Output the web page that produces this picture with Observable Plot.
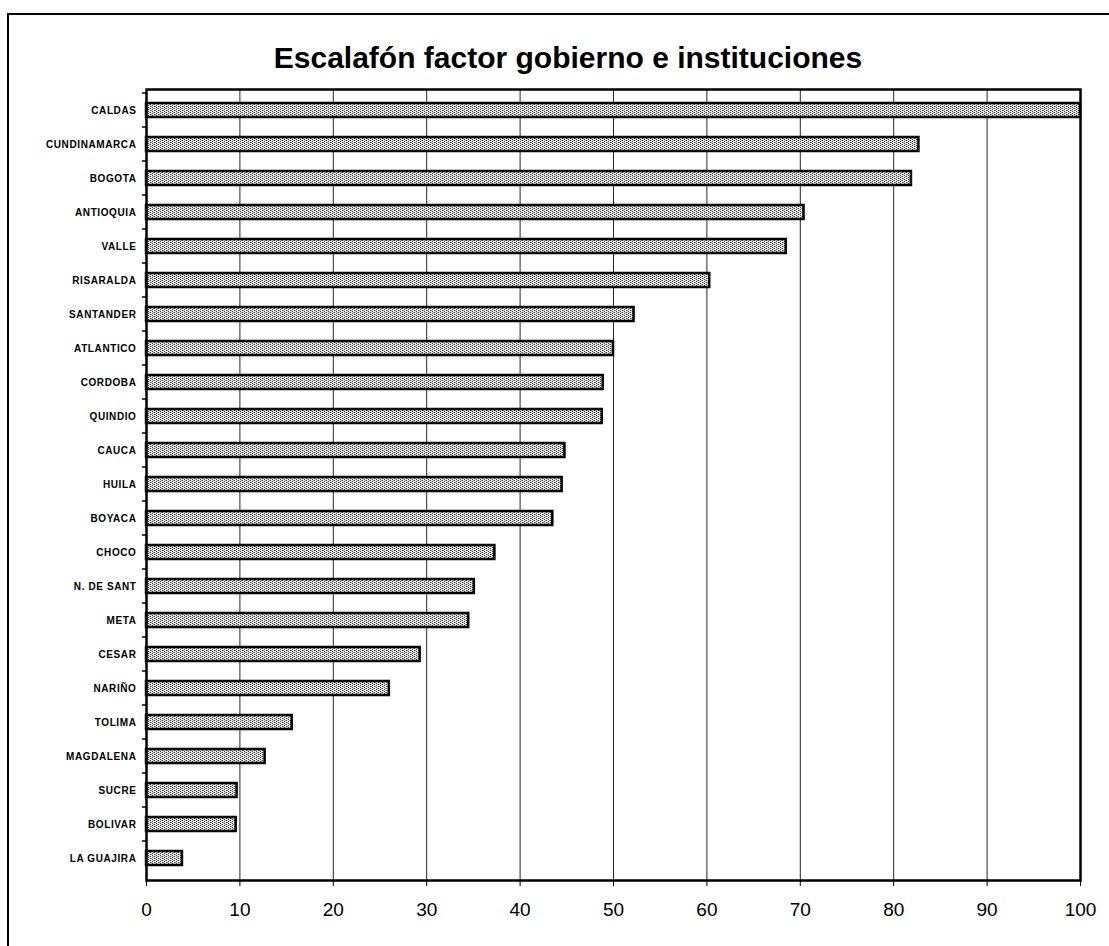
<!DOCTYPE html>
<html>
<head>
<meta charset="utf-8">
<script src="https://cdn.jsdelivr.net/npm/d3@7"></script>
<script src="https://cdn.jsdelivr.net/npm/@observablehq/plot@0.6"></script>
<style>
  html, body { margin: 0; padding: 0; background: #fff; }
  body { width: 1109px; height: 946px; overflow: hidden; position: relative; font-family: "Liberation Sans", Arial, sans-serif; }
  #frame { position: absolute; left: 7px; top: 13px; width: 1120px; height: 960px; border-left: 2px solid #000; border-top: 2px solid #000; box-sizing: border-box; }
  #title { position: absolute; left: 0; top: 41px; width: 1136px; text-align: center; font-weight: bold; font-size: 30px; color: #000; }
  #chart { position: absolute; left: 0; top: 75px; }
</style>
</head>
<body>
<div id="frame"></div>
<div id="title">Escalafón factor gobierno e instituciones</div>
<div id="chart"></div>
<script>
const departamentos = ["CALDAS","CUNDINAMARCA","BOGOTA","ANTIOQUIA","VALLE","RISARALDA","SANTANDER","ATLANTICO","CORDOBA","QUINDIO","CAUCA","HUILA","BOYACA","CHOCO","N. DE SANT","META","CESAR","NARIÑO","TOLIMA","MAGDALENA","SUCRE","BOLIVAR","LA GUAJIRA"];
const valores = [100, 82.7, 81.9, 70.4, 68.5, 60.3, 52.2, 50.0, 48.9, 48.8, 44.8, 44.5, 43.5, 37.3, 35.1, 34.5, 29.3, 26.0, 15.6, 12.7, 9.7, 9.6, 3.85];
const xTicks = [0,10,20,30,40,50,60,70,80,90,100];

const data = departamentos.map((d, i) => ({depto: d, valor: valores[i]}));

const chart = Plot.plot({
  width: 1109,
  height: 871,
  marginLeft: 146,
  marginRight: 29,
  marginTop: 14,
  marginBottom: 66,
  style: {fontFamily: "'Liberation Sans', Arial, sans-serif", color: "#000", background: "transparent"},
  x: {domain: [0, 100], ticks: xTicks, label: null},
  y: {domain: departamentos, paddingInner: 0.58, paddingOuter: 0.29, label: null},
  marks: [
    Plot.gridX(xTicks, {stroke: "#000", strokeOpacity: 0.85, strokeWidth: 1}),
    Plot.barX(data, {x: "valor", y: "depto", fill: "url(#stipple)", stroke: "#000", strokeWidth: 2.5}),
    Plot.frame({stroke: "#000", strokeWidth: 2.5}),
    Plot.axisX({ticks: xTicks, tickSize: 6, tickPadding: 16, fontSize: 19, tickFormat: d => String(d), stroke: "#000", strokeWidth: 1}),
    Plot.axisY({tickSize: 0, tickPadding: 10, fontSize: 10, fontWeight: "bold"})
  ]
});

// stipple pattern for bars
const svg = d3.select(chart);
const defs = svg.insert("defs", ":first-child");
const pat = defs.append("pattern").attr("id", "stipple").attr("patternUnits", "userSpaceOnUse").attr("width", 4).attr("height", 4);
pat.append("rect").attr("width", 4).attr("height", 4).attr("fill", "#e8e8e8");
[[0,0],[2,1],[0,2],[2,3],[1,1],[3,3]].forEach(([a,b]) => pat.append("rect").attr("x", a).attr("y", b).attr("width", 1).attr("height", 1).attr("fill", b % 2 === 1 && (a===1||a===3) ? "#999" : "#444"));

// small ticks at band boundaries on the category axis
const ys = chart.scale("y");
const xs = chart.scale("x");
const x0 = xs.apply(0);
const step = ys.step;
const g = svg.append("g").attr("stroke", "#000").attr("stroke-width", 1.5);
departamentos.forEach((d) => {
  const yb = ys.apply(d) + ys.bandwidth / 2 - step / 2;
  g.append("line").attr("x1", x0 - 4).attr("x2", x0).attr("y1", yb).attr("y2", yb);
});
svg.selectAll("[aria-label='y-axis tick label'] text").style("letter-spacing", "0.6px");

document.getElementById("chart").appendChild(chart);
</script>
</body>
</html>
